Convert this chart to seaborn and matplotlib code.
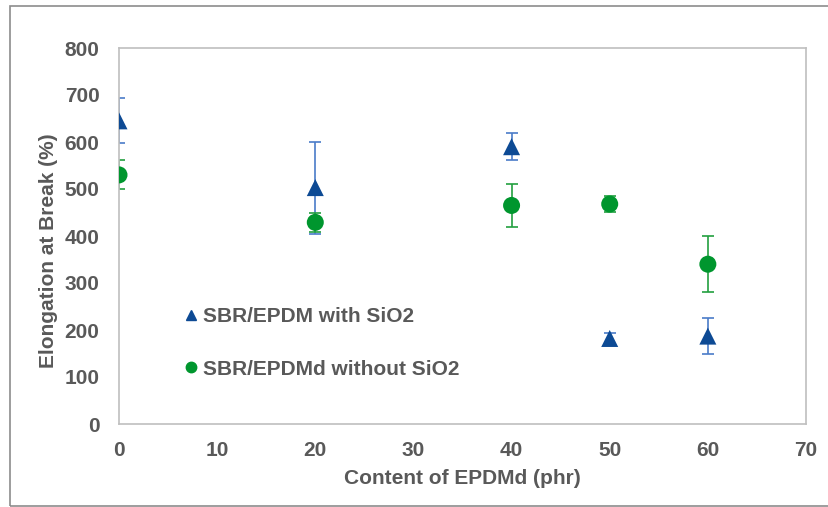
import matplotlib
matplotlib.use("Agg")
import matplotlib.pyplot as plt
import seaborn as sns
import pandas as pd
import numpy as np
from matplotlib.patches import Rectangle
from matplotlib.lines import Line2D

# Data
content = [0, 20, 40, 50, 60]
with_sio2 = [645, 503, 590, 182, 187]
with_sio2_err = [48, 98, 29, 12, 38]
without_sio2 = [530, 429, 465, 468, 340]
without_sio2_err = [31, 21, 46, 17, 59]
labels = ["SBR/EPDM with SiO2", "SBR/EPDMd without SiO2"]
xticks = [0, 10, 20, 30, 40, 50, 60, 70]
yticks = [0, 100, 200, 300, 400, 500, 600, 700, 800]

sns.set_theme(style="white")
plt.rcParams['font.family'] = ['Liberation Sans', 'DejaVu Sans']

grey = "#595959"
blue = "#0D4A94"
blue_err = "#4A7CC8"
green = "#00962E"
green_err = "#22A040"

fig = plt.figure(figsize=(8.29, 5.07), dpi=100)
W, H = 829, 507
ax = fig.add_axes([119 / W, 1 - 424 / H, (806 - 119) / W, (424 - 48) / H])

# Outer frame
fig.patches.append(Rectangle((10 / W, 1 / H), 1.0, 500 / H, transform=fig.transFigure,
                             fill=False, edgecolor="#8c8c8c", linewidth=1.2, zorder=-1))

df = pd.DataFrame({
    "x": content * 2,
    "y": with_sio2 + without_sio2,
    "series": [labels[0]] * len(content) + [labels[1]] * len(content),
})

ax.errorbar(content, with_sio2, yerr=with_sio2_err, fmt="none", ecolor=blue_err,
            elinewidth=1.2, capsize=4, capthick=1.2, zorder=2)
ax.errorbar(content, without_sio2, yerr=without_sio2_err, fmt="none", ecolor=green_err,
            elinewidth=1.2, capsize=4, capthick=1.2, zorder=2)

sns.scatterplot(data=df, x="x", y="y", hue="series", style="series",
                markers={labels[0]: "^", labels[1]: "o"},
                palette={labels[0]: blue, labels[1]: green},
                s=150, edgecolor="none", ax=ax, zorder=3, legend=False)

ax.set_xlim(0, 70)
ax.set_ylim(0, 800)
ax.set_xticks(xticks)
ax.set_yticks(yticks)
ax.tick_params(axis="both", length=0, labelsize=15, labelcolor=grey)
ax.tick_params(axis="y", pad=14)
ax.tick_params(axis="x", pad=12)
for t in ax.get_xticklabels() + ax.get_yticklabels():
    t.set_fontweight("bold")
ax.set_xlabel("Content of EPDMd (phr)", fontsize=15, fontweight="bold", color=grey, labelpad=7)
ax.set_ylabel("Elongation at Break (%)", fontsize=15, fontweight="bold", color=grey)
ax.yaxis.set_label_coords(-0.089, 0.46)

for s in ax.spines.values():
    s.set_color("#bfbfbf")
    s.set_linewidth(1.2)

handles = [Line2D([], [], marker="^", color=blue, linestyle="none", markersize=7.5),
           Line2D([], [], marker="o", color=green, linestyle="none", markersize=7.5)]
leg = ax.legend(handles, labels, loc="upper left", bbox_to_anchor=(0.062, 0.36),
                frameon=False, handletextpad=0.1, labelspacing=1.6, handlelength=1.0,
                prop={"size": 15, "weight": "bold"})
for t in leg.get_texts():
    t.set_color(grey)

fig.savefig("out.png", dpi=100)
